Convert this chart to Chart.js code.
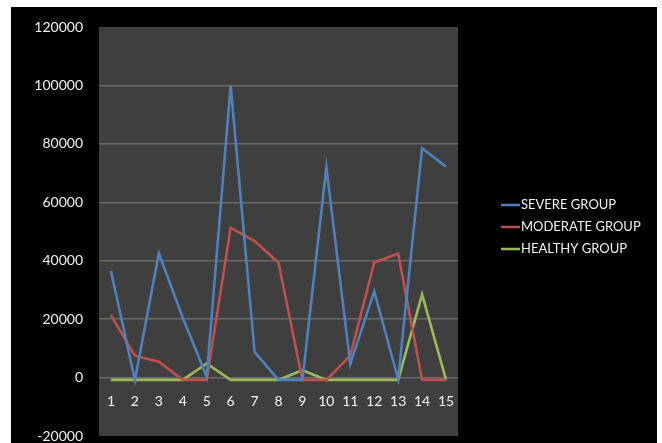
<!DOCTYPE html>
<html>
<head>
<meta charset="utf-8">
<script src="https://cdn.jsdelivr.net/npm/chart.js@4/dist/chart.umd.min.js"></script>
<style>
  html, body { margin: 0; padding: 0; background: #ffffff; }
  #frame {
    position: absolute; left: 11px; top: 7px;
    width: 646px; height: 436px; background: #000000;
  }
  canvas { display: block; }
</style>
</head>
<body>
<div id="frame"><canvas id="chart" width="646" height="436"></canvas></div>
<script>
// Categories (patients / samples 1..15)
const categories = ['1','2','3','4','5','6','7','8','9','10','11','12','13','14','15'];

// Series values
const severeGroup   = [36500, -800, 42500, 20500, 300, 100000, 8800, -800, -800, 72000, 4600, 29500, -500, 78500, 72200];
const moderateGroup = [21300, 7500, 5400, -800, -800, 51300, 46700, 39300, -800, -800, 7500, 39400, 42500, -800, -800];
const healthyGroup  = [-800, -800, -800, -800, 4800, -800, -800, -800, 2500, -800, -800, -800, -800, 28500, -800];

// Y axis tick values
const yTicks = [-20000, 0, 20000, 40000, 60000, 80000, 100000, 120000];

const seriesNames  = ['SEVERE GROUP', 'MODERATE GROUP', 'HEALTHY GROUP'];
const seriesColors = ['#4f81bd', '#c0504d', '#9bbb59'];
const FONT = 'Lato, "Open Sans", sans-serif';

// Dark fill behind the plotting area
const plotBackground = {
  id: 'plotBackground',
  beforeDraw(chart) {
    const { ctx, chartArea: a } = chart;
    ctx.save();
    ctx.fillStyle = '#3f3f3f';
    ctx.fillRect(a.left, a.top, a.right - a.left, a.bottom - a.top);
    ctx.restore();
  }
};

// Legend to the right of the plot: short coloured line followed by the series name
const sideLegend = {
  id: 'sideLegend',
  afterDraw(chart) {
    const { ctx } = chart;
    const x0 = 490, y0 = 198, step = 22;
    ctx.save();
    ctx.font = '13px ' + FONT;
    ctx.textBaseline = 'middle';
    ctx.textAlign = 'left';
    chart.data.datasets.forEach((ds, i) => {
      const y = y0 + i * step;
      ctx.strokeStyle = ds.borderColor;
      ctx.lineWidth = 2.5;
      ctx.beginPath();
      ctx.moveTo(x0, y);
      ctx.lineTo(x0 + 19, y);
      ctx.stroke();
      ctx.fillStyle = '#f2f2f2';
      ctx.fillText(ds.label, x0 + 20, y);
    });
    ctx.restore();
  }
};

const datasets = [severeGroup, moderateGroup, healthyGroup].map((values, i) => ({
  label: seriesNames[i],
  data: values,
  borderColor: seriesColors[i],
  backgroundColor: seriesColors[i],
  borderWidth: 2.6,
  pointRadius: 0,
  tension: 0,
  fill: false
}));

new Chart(document.getElementById('chart'), {
  type: 'line',
  data: { labels: categories, datasets },
  options: {
    responsive: false,
    animation: false,
    layout: { padding: { left: 0, top: 20, right: 199, bottom: 7 } },
    plugins: {
      legend: { display: false },
      tooltip: { enabled: false }
    },
    scales: {
      x: {
        offset: true,
        position: { y: 0 },
        afterFit(scale) { scale.height = 0; },
        grid: { display: false, drawTicks: false },
        border: { display: false },
        ticks: {
          color: '#f2f2f2',
          font: { family: FONT, size: 14 },
          padding: 16,
          maxRotation: 0,
          autoSkip: false
        }
      },
      y: {
        min: -20000,
        max: 120000,
        afterBuildTicks(scale) {
          scale.ticks = yTicks.map(v => ({ value: v }));
        },
        afterFit(scale) {
          scale.width = 88;
          scale.paddingTop = 0;
          scale.paddingBottom = 0;
        },
        grid: {
          color: ctx => (ctx.tick && (ctx.tick.value === -20000 || ctx.tick.value === 120000)) ? 'rgba(0,0,0,0)' : '#6a6a6a',
          lineWidth: 1.5,
          drawTicks: false
        },
        border: { display: false },
        ticks: {
          color: '#f2f2f2',
          font: { family: FONT, size: 14 },
          padding: 16,
          callback: v => String(v)
        }
      }
    }
  },
  plugins: [plotBackground, sideLegend]
});
</script>
</body>
</html>
